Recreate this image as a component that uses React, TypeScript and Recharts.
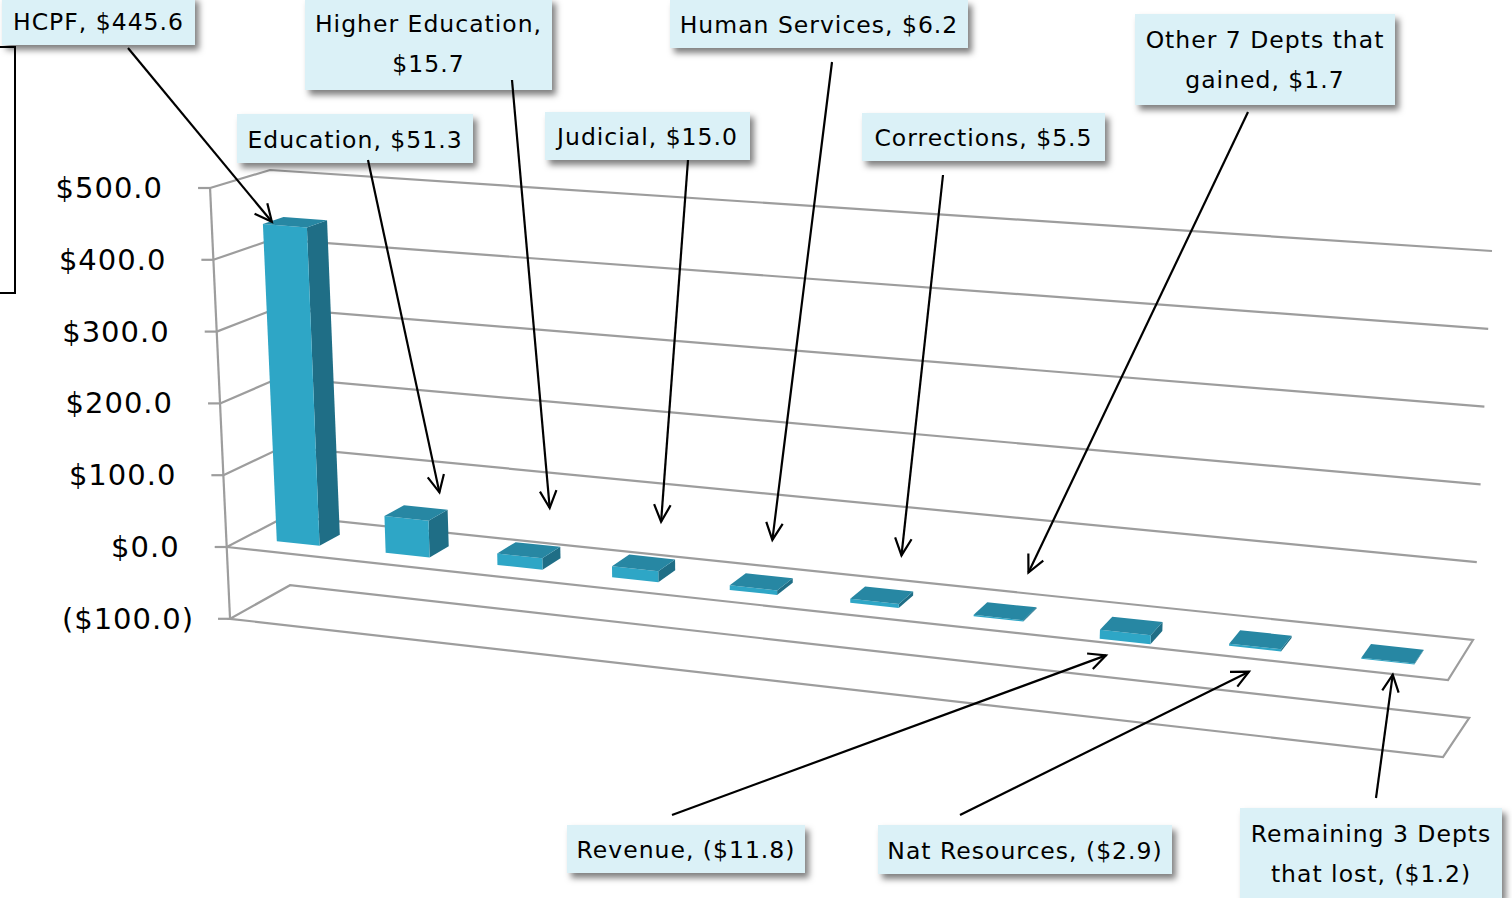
import React from "react";
import { BarChart, Bar, XAxis, YAxis, CartesianGrid } from "recharts";

// change by department, $ millions
const departments = [
  "HCPF",
  "Education",
  "Higher Education",
  "Judicial",
  "Human Services",
  "Corrections",
  "Other 7 Depts that gained",
  "Revenue",
  "Nat Resources",
  "Remaining 3 Depts that lost",
];
const changes = [445.6, 51.3, 15.7, 15.0, 6.2, 5.5, 1.7, -11.8, -2.9, -1.2];
const yTicks = [-100, 0, 100, 200, 300, 400, 500];
const calloutText = [
  ["HCPF, $445.6"],
  ["Education, $51.3"],
  ["Higher Education,", "$15.7"],
  ["Judicial, $15.0"],
  ["Human Services, $6.2"],
  ["Corrections, $5.5"],
  ["Other 7 Depts that", "gained, $1.7"],
  ["Revenue, ($11.8)"],
  ["Nat Resources, ($2.9)"],
  ["Remaining 3 Depts", "that lost, ($1.2)"],
];

// callout box placement (x, y, w, h), arrow start, arrow tip offset from bar end
const calloutLayout = [
  { box: [2, -4, 193, 49], from: [128, 48], tip: [-13, -4] },
  { box: [237, 114, 236, 49], from: [368, 160], tip: [33, -26] },
  { box: [305, -2, 247, 92], from: [512, 80], tip: [30, -48] },
  { box: [545, 112, 205, 48], from: [688, 160], tip: [26, -47] },
  { box: [670, 0, 298, 48], from: [832, 62], tip: [19, -48] },
  { box: [862, 113, 243, 48], from: [943, 175], tip: [27, -46] },
  { box: [1135, 14, 260, 91], from: [1248, 112], tip: [30, -45] },
  { box: [567, 825, 238, 48], from: [672, 815], tip: [-19, 14] },
  { box: [878, 825, 294, 49], from: [960, 815], tip: [-6, 23] },
  { box: [1240, 808, 262, 90], from: [1376, 798], tip: [5, 13] },
];

const data = departments.map((name, i) => ({ name, value: changes[i] }));

const W = 1512;
const H = 898;
const MARGIN = { top: 100, right: 100, bottom: 100, left: 100 };
const Y_AXIS_W = 100;
const PL = MARGIN.left + Y_AXIS_W;
const PR = W - MARGIN.right;
const PT = MARGIN.top;
const PB = H - MARGIN.bottom;
const Y_MIN = -100;
const Y_MAX = 500;

const FONT = "'DejaVu Sans', Verdana, sans-serif";
const GRID = "#9d9d9d";

const yToV = (y: number) => Y_MAX - ((y - PT) / (PB - PT)) * (Y_MAX - Y_MIN);
const xToU = (x: number) => (x - PL) / (PR - PL);
const lerp = (a: number, b: number, t: number) => a + (b - a) * t;

// 3-d box corners of the plot at a given value
function corners(v: number) {
  return {
    lf: [226.7 - 0.0333 * v, 547 - 0.718 * v],
    lb: [286.7 - 0.0333 * v, 516 - 0.692 * v],
    rf: [1448 + 0.05 * v, 680 - 0.77 * v],
    rb: [1473 + 0.038 * v, 640 - 0.778 * v],
  };
}

function project(u: number, v: number, d: number) {
  const c = corners(v);
  const fx = lerp(c.lf[0], c.rf[0], u);
  const fy = lerp(c.lf[1], c.rf[1], u);
  const bx = lerp(c.lb[0], c.rb[0], u);
  const by = lerp(c.lb[1], c.rb[1], u);
  return [lerp(fx, bx, d), lerp(fy, by, d)];
}

const warp = (u: number) => u - 0.12 * u * (1 - u);
const pts = (list: number[][]) => list.map((p) => p.join(",")).join(" ");

const fmt = (v: number) =>
  v < 0 ? `($${Math.abs(v).toFixed(1)})` : `$${v.toFixed(1)}`;

function GridLevel(props: any) {
  const v = Math.round(yToV(props.y1));
  const c = corners(v);
  const top = corners(Y_MAX).lf;
  const bottom = corners(Y_MIN).lf;
  return (
    <g key={`lvl-${props.index}`} stroke={GRID} strokeWidth={2.2} fill="none">
      <line x1={c.lf[0] - 12} y1={c.lf[1]} x2={c.lf[0]} y2={c.lf[1]} />
      {v <= 0 ? (
        <polygon points={pts([c.lf, c.rf, c.rb, c.lb])} />
      ) : (
        <polyline points={pts([c.lf, c.lb, c.rb])} />
      )}
      {v === Y_MAX && (
        <line x1={top[0]} y1={top[1]} x2={bottom[0]} y2={bottom[1]} />
      )}
    </g>
  );
}

function YTick(props: any) {
  const v = props.payload.value;
  const p = corners(v).lf;
  return (
    <text
      x={p[0] - 47 + (v < 0 ? 11 : 0)}
      y={p[1]}
      textAnchor="end"
      dominantBaseline="central"
      fontFamily={FONT}
      fontSize={29}
      letterSpacing={1}
      fill="#000"
    >
      {fmt(v)}
    </text>
  );
}

function arrowHead(x1: number, y1: number, x2: number, y2: number) {
  const ang = Math.atan2(y2 - y1, x2 - x1);
  const L = 19;
  const a = 0.45;
  const p1 = [x2 - L * Math.cos(ang - a), y2 - L * Math.sin(ang - a)];
  const p2 = [x2 - L * Math.cos(ang + a), y2 - L * Math.sin(ang + a)];
  return `M${p1[0]},${p1[1]} L${x2},${y2} L${p2[0]},${p2[1]}`;
}

function Callout({ index, anchor }: { index: number; anchor: number[] }) {
  const lay = calloutLayout[index];
  const lines = calloutText[index];
  const [bx, by, bw, bh] = lay.box;
  const tx = anchor[0] + lay.tip[0];
  const ty = anchor[1] + lay.tip[1];
  return (
    <g>
      <rect x={bx} y={by} width={bw} height={bh} fill="#dbf1f7" filter="url(#boxShadow)" />
      {lines.map((t, k) => (
        <text
          key={k}
          x={bx + bw / 2}
          y={lines.length === 1 ? by + bh / 2 + 1 : by + 26 + k * 40}
          textAnchor="middle"
          dominantBaseline="central"
          fontFamily={FONT}
          fontSize={23.5}
          letterSpacing={1}
          fill="#000"
        >
          {t}
        </text>
      ))}
      <line x1={lay.from[0]} y1={lay.from[1]} x2={tx} y2={ty} stroke="#000" strokeWidth={2.2} />
      <path d={arrowHead(lay.from[0], lay.from[1], tx, ty)} stroke="#000" strokeWidth={2.2} fill="none" />
    </g>
  );
}

function Box3D(props: any) {
  const { x, y, width, height, index } = props;
  const u1 = warp(xToU(x));
  const u2 = warp(xToU(x + width));
  const uc = warp(xToU(x + width / 2));
  const va = yToV(y);
  const vb = yToV(y + height);
  const hi = Math.max(va, vb);
  const lo = Math.min(va, vb);
  const d1 = 0.3;
  const d2 = 0.65;
  const front = [project(u1, lo, d1), project(u2, lo, d1), project(u2, hi, d1), project(u1, hi, d1)];
  const side = [project(u2, lo, d1), project(u2, lo, d2), project(u2, hi, d2), project(u2, hi, d1)];
  const top = [project(u1, hi, d1), project(u2, hi, d1), project(u2, hi, d2), project(u1, hi, d2)];
  const end = changes[index] < 0 ? lo : hi;
  const anchor = project(uc, end, d1);
  return (
    <g>
      {index === 0 && (
        <defs>
          <filter id="boxShadow" x="-10%" y="-20%" width="130%" height="160%">
            <feDropShadow dx={4} dy={5} stdDeviation={3} floodColor="#000" floodOpacity={0.5} />
          </filter>
        </defs>
      )}
      <polygon points={pts(side)} fill="#1f6e86" />
      <polygon points={pts(front)} fill="#2ea6c6" />
      <polygon points={pts(top)} fill="#2787a3" />
      <Callout index={index} anchor={anchor} />
    </g>
  );
}

export default function App() {
  return (
    <div style={{ position: "fixed", left: 0, top: 0, width: W, height: H, background: "#fff" }}>
      <svg width={60} height={320} style={{ position: "absolute", left: 0, top: 0 }}>
        <path d="M0,47 H15 V293 H0" stroke="#000" strokeWidth={2} fill="none" />
      </svg>
      <BarChart
        width={W}
        height={H}
        data={data}
        margin={MARGIN}
        barCategoryGap="30%"
        style={{ position: "absolute", left: 0, top: 0 }}
      >
        <CartesianGrid vertical={false} horizontal={(p: any) => <GridLevel {...p} />} />
        <XAxis dataKey="name" hide />
        <YAxis
          domain={[Y_MIN, Y_MAX]}
          ticks={yTicks}
          interval={0}
          width={Y_AXIS_W}
          axisLine={false}
          tickLine={false}
          tick={<YTick />}
        />
        <Bar dataKey="value" isAnimationActive={false} shape={(p: any) => <Box3D {...p} />} />
      </BarChart>
    </div>
  );
}
